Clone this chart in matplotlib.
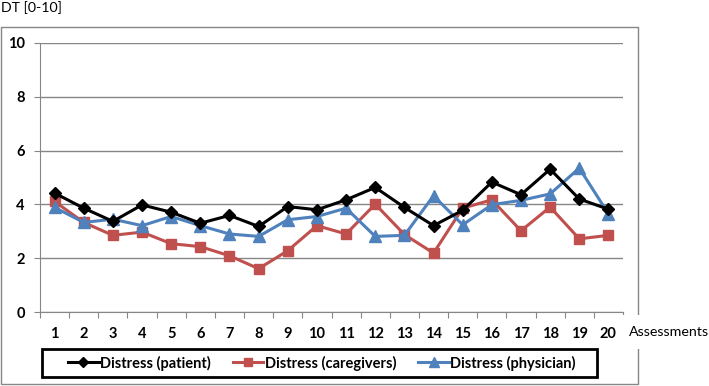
import matplotlib
matplotlib.use("Agg")
import matplotlib.pyplot as plt
import matplotlib.patches as patches
import numpy as np

plt.rcParams['font.family'] = ['Lato', 'DejaVu Sans']

assessments = list(range(1, 21))
patient = [4.42, 3.86, 3.37, 3.98, 3.71, 3.30, 3.59, 3.18, 3.92, 3.80,
           4.17, 4.63, 3.89, 3.21, 3.78, 4.83, 4.36, 5.31, 4.20, 3.82]
caregivers = [4.11, 3.33, 2.85, 2.97, 2.54, 2.43, 2.09, 1.61, 2.28, 3.21,
              2.90, 4.01, 2.88, 2.19, 3.86, 4.17, 3.02, 3.90, 2.72, 2.85]
physician = [3.89, 3.33, 3.45, 3.21, 3.55, 3.21, 2.90, 2.81, 3.43, 3.55,
             3.86, 2.81, 2.85, 4.32, 3.24, 3.99, 4.15, 4.39, 5.35, 3.65]

W, H = 709, 386
fig = plt.figure(figsize=(W / 100, H / 100), dpi=100)
ax = fig.add_axes([40 / W, 1 - 312 / H, 583 / W, 269 / H])

grey = "#868686"
# outer chart frame
fig.patches.append(patches.Rectangle((1 / W, 1 - 384 / H), 637 / W, 357 / H,
                                     transform=fig.transFigure, fill=False,
                                     edgecolor=grey, lw=1, zorder=0))

ax.plot(assessments, patient, color="black", lw=2.2, marker="D", ms=6.5,
        label="Distress (patient)", zorder=5)
ax.plot(assessments, caregivers, color="#C0504D", lw=2.2, marker="s", ms=7.5,
        label="Distress (caregivers)", zorder=3)
ax.plot(assessments, physician, color="#4F81BD", lw=2.2, marker="^", ms=8.5,
        label="Distress (physician)", zorder=4)

ax.set_xlim(0.5, 20.5)
ax.set_ylim(0, 10)
ax.set_yticks([0, 2, 4, 6, 8, 10])
ax.yaxis.grid(True, color=grey, lw=1)
ax.set_axisbelow(True)
ax.set_xticks(np.arange(0.5, 21, 1))
ax.set_xticklabels([])
ax.set_xticks(assessments, minor=True)
ax.set_xticklabels([str(a) for a in assessments], minor=True,
                   fontsize=10.5, fontweight="bold")
ax.tick_params(axis="x", which="major", length=4, color=grey, direction="out")
ax.tick_params(axis="x", which="minor", length=0, pad=11)
ax.tick_params(axis="y", length=4, color=grey, labelsize=10.5, pad=7)
for lab in ax.get_yticklabels():
    lab.set_fontweight("bold")
for s in ["top", "right"]:
    ax.spines[s].set_visible(False)
ax.spines["left"].set_color(grey)
ax.spines["bottom"].set_color(grey)

fig.text(1 / W, 1 - 8 / H, "DT [0-10]", fontsize=10.2, va="center", ha="left")
fig.text(629 / W, 1 - 332 / H, "Assessments", fontsize=10.3, va="center", ha="left",
         bbox=dict(facecolor="white", edgecolor="none", pad=8))

# legend box with a thick black border
fig.patches.append(patches.Rectangle((42 / W, 1 - 377 / H), 555 / W, 28 / H,
                                     transform=fig.transFigure, fill=False,
                                     edgecolor="black", lw=2, zorder=5))
leg = fig.legend(loc="center", bbox_to_anchor=(322 / W, 1 - 363 / H), ncol=3,
                 prop={"weight": "bold", "size": 10.5}, frameon=False,
                 handlelength=2.1, handletextpad=0.1, columnspacing=1.5,
                 borderpad=0, borderaxespad=0, markerscale=0.8)

fig.savefig("out.png", dpi=100)
